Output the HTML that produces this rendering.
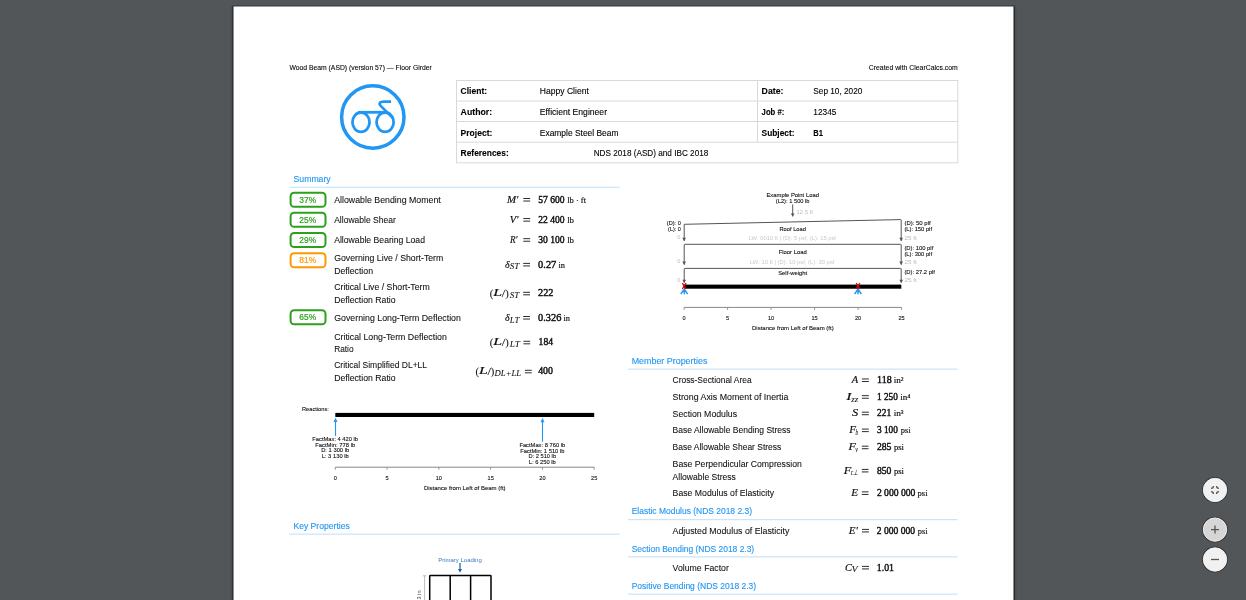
<!DOCTYPE html><html><head><meta charset="utf-8"><style>html,body{margin:0;padding:0;overflow:hidden;background:#525659}svg{display:block;will-change:transform}</style></head><body><svg width="1246" height="600" viewBox="0 0 1246 600" font-family="Liberation Sans"><rect x="0" y="0" width="1246" height="600" fill="#525659"/>
<rect x="230.5" y="5.5" width="786" height="620" fill="#4b4e51"/>
<rect x="232.5" y="5.5" width="782" height="620" fill="#33363a"/>
<rect x="232.6" y="6.5" width="1.4" height="620" fill="#1b1e21"/>
<rect x="1013" y="6.5" width="1.6" height="620" fill="#1b1e21"/>
<rect x="233.5" y="6.5" width="780" height="620" fill="#ffffff"/>
<text x="289.4" y="70" font-size="6.8" fill="#000" textLength="142.4" lengthAdjust="spacingAndGlyphs" stroke="#000" stroke-width="0.08">Wood Beam (ASD) (version 57) — Floor Girder</text>
<text x="957.8" y="70" font-size="6.8" fill="#000" text-anchor="end" textLength="89" lengthAdjust="spacingAndGlyphs" stroke="#000" stroke-width="0.08">Created with ClearCalcs.com</text>
<g fill="none" stroke="#2196f3">
<circle cx="372.8" cy="117" r="31.2" stroke-width="3.5"/>
<ellipse cx="361" cy="122.2" rx="8.55" ry="9.7" stroke-width="2.8"/>
<ellipse cx="385.1" cy="122.2" rx="8.55" ry="9.7" stroke-width="2.8"/>
<path d="M358 112.3 L386 112.3" stroke-width="2.8"/>
<path d="M393.2 118.2 L381.2 106.4 C 378.2 103.4, 379.6 101.6, 384 101.6 L 391 101.6" stroke-width="2.7"/>
</g>
<g fill="none" stroke="#d9d9d9" stroke-width="1">
<rect x="456.5" y="80.5" width="501.3" height="82.3"/>
<line x1="456.5" y1="101" x2="957.8" y2="101" stroke="#d9d9d9" stroke-width="1"/>
<line x1="456.5" y1="121.5" x2="957.8" y2="121.5" stroke="#d9d9d9" stroke-width="1"/>
<line x1="456.5" y1="142.2" x2="957.8" y2="142.2" stroke="#d9d9d9" stroke-width="1"/>
<line x1="757.5" y1="80.5" x2="757.5" y2="142.2" stroke="#d9d9d9" stroke-width="1"/>
</g>
<text x="460.6" y="94.1" font-size="8.4" fill="#000" textLength="26.5" lengthAdjust="spacingAndGlyphs" font-weight="700" stroke="#000" stroke-width="0.1">Client:</text>
<text x="460.6" y="114.7" font-size="8.4" fill="#000" textLength="31.5" lengthAdjust="spacingAndGlyphs" font-weight="700" stroke="#000" stroke-width="0.1">Author:</text>
<text x="460.6" y="135.5" font-size="8.4" fill="#000" textLength="31.8" lengthAdjust="spacingAndGlyphs" font-weight="700" stroke="#000" stroke-width="0.1">Project:</text>
<text x="460.6" y="156.1" font-size="8.4" fill="#000" textLength="48.2" lengthAdjust="spacingAndGlyphs" font-weight="700" stroke="#000" stroke-width="0.1">References:</text>
<text x="539.8" y="94.1" font-size="8.4" fill="#000" textLength="49" lengthAdjust="spacingAndGlyphs" stroke="#000" stroke-width="0.1">Happy Client</text>
<text x="539.8" y="114.7" font-size="8.4" fill="#000" textLength="67.2" lengthAdjust="spacingAndGlyphs" stroke="#000" stroke-width="0.1">Efficient Engineer</text>
<text x="539.8" y="135.5" font-size="8.4" fill="#000" textLength="78.7" lengthAdjust="spacingAndGlyphs" stroke="#000" stroke-width="0.1">Example Steel Beam</text>
<text x="593.7" y="156.1" font-size="8.4" fill="#000" textLength="114.6" lengthAdjust="spacingAndGlyphs" stroke="#000" stroke-width="0.1">NDS 2018 (ASD) and IBC 2018</text>
<text x="761.6" y="94.1" font-size="8.4" fill="#000" textLength="21.8" lengthAdjust="spacingAndGlyphs" font-weight="700" stroke="#000" stroke-width="0.1">Date:</text>
<text x="761.6" y="114.7" font-size="8.4" fill="#000" textLength="22.7" lengthAdjust="spacingAndGlyphs" font-weight="700" stroke="#000" stroke-width="0.1">Job #:</text>
<text x="761.6" y="135.5" font-size="8.4" fill="#000" textLength="32.9" lengthAdjust="spacingAndGlyphs" font-weight="700" stroke="#000" stroke-width="0.1">Subject:</text>
<text x="813.3" y="94.1" font-size="8.4" fill="#000" textLength="49.1" lengthAdjust="spacingAndGlyphs" stroke="#000" stroke-width="0.1">Sep 10, 2020</text>
<text x="813.3" y="114.7" font-size="8.4" fill="#000" textLength="23.2" lengthAdjust="spacingAndGlyphs" stroke="#000" stroke-width="0.1">12345</text>
<text x="813.3" y="135.5" font-size="8.4" fill="#000" textLength="9.7" lengthAdjust="spacingAndGlyphs" font-weight="700" stroke="#000" stroke-width="0.1">B1</text>
<text x="293.5" y="182" font-size="8.8" fill="#2196f3" textLength="37.2" lengthAdjust="spacingAndGlyphs" stroke="#2196f3" stroke-width="0.12">Summary</text>
<rect x="289.4" y="186.7" width="330.20000000000005" height="1.1" fill="#c6e2fb"/>
<rect x="290.6" y="192.75" width="34.9" height="14.1" rx="3.6" fill="none" stroke="#2ca01c" stroke-width="2"/>
<text x="307.7" y="202.8" font-size="8.4" fill="#2ca01c" text-anchor="middle" textLength="16.8" lengthAdjust="spacingAndGlyphs" stroke="#2ca01c" stroke-width="0.2">37%</text>
<text x="334.2" y="203" font-size="9.0" fill="#111" textLength="106.6" lengthAdjust="spacingAndGlyphs" stroke="#111" stroke-width="0.08">Allowable Bending Moment</text>
<rect x="290.6" y="212.75" width="34.9" height="14.1" rx="3.6" fill="none" stroke="#2ca01c" stroke-width="2"/>
<text x="307.7" y="222.8" font-size="8.4" fill="#2ca01c" text-anchor="middle" textLength="16.8" lengthAdjust="spacingAndGlyphs" stroke="#2ca01c" stroke-width="0.2">25%</text>
<text x="334.2" y="223.3" font-size="9.0" fill="#111" textLength="61.6" lengthAdjust="spacingAndGlyphs" stroke="#111" stroke-width="0.08">Allowable Shear</text>
<rect x="290.6" y="232.95" width="34.9" height="14.1" rx="3.6" fill="none" stroke="#2ca01c" stroke-width="2"/>
<text x="307.7" y="243.0" font-size="8.4" fill="#2ca01c" text-anchor="middle" textLength="16.8" lengthAdjust="spacingAndGlyphs" stroke="#2ca01c" stroke-width="0.2">29%</text>
<text x="334.2" y="243.2" font-size="9.0" fill="#111" textLength="90.8" lengthAdjust="spacingAndGlyphs" stroke="#111" stroke-width="0.08">Allowable Bearing Load</text>
<rect x="290.6" y="253.25" width="34.9" height="14.1" rx="3.6" fill="none" stroke="#ff9800" stroke-width="2"/>
<text x="307.7" y="263.3" font-size="8.4" fill="#ff9800" text-anchor="middle" textLength="16.8" lengthAdjust="spacingAndGlyphs" stroke="#ff9800" stroke-width="0.2">81%</text>
<text x="334.2" y="261.4" font-size="9.0" fill="#111" textLength="109.1" lengthAdjust="spacingAndGlyphs" stroke="#111" stroke-width="0.08">Governing Live / Short-Term</text>
<text x="334.2" y="274.2" font-size="9.0" fill="#111" textLength="38.8" lengthAdjust="spacingAndGlyphs" stroke="#111" stroke-width="0.08">Deflection</text>
<text x="334.2" y="290.1" font-size="9.0" fill="#111" textLength="95.6" lengthAdjust="spacingAndGlyphs" stroke="#111" stroke-width="0.08">Critical Live / Short-Term</text>
<text x="334.2" y="302.9" font-size="9.0" fill="#111" textLength="61.4" lengthAdjust="spacingAndGlyphs" stroke="#111" stroke-width="0.08">Deflection Ratio</text>
<rect x="290.6" y="310.25" width="34.9" height="14.1" rx="3.6" fill="none" stroke="#2ca01c" stroke-width="2"/>
<text x="307.7" y="320.29999999999995" font-size="8.4" fill="#2ca01c" text-anchor="middle" textLength="16.8" lengthAdjust="spacingAndGlyphs" stroke="#2ca01c" stroke-width="0.2">65%</text>
<text x="334.2" y="321.1" font-size="9.0" fill="#111" textLength="126.7" lengthAdjust="spacingAndGlyphs" stroke="#111" stroke-width="0.08">Governing Long-Term Deflection</text>
<text x="334.2" y="339.5" font-size="9.0" fill="#111" textLength="112.7" lengthAdjust="spacingAndGlyphs" stroke="#111" stroke-width="0.08">Critical Long-Term Deflection</text>
<text x="334.2" y="351.8" font-size="9.0" fill="#111" textLength="19.4" lengthAdjust="spacingAndGlyphs" stroke="#111" stroke-width="0.08">Ratio</text>
<text x="334.2" y="368.3" font-size="9.0" fill="#111" textLength="92.9" lengthAdjust="spacingAndGlyphs" stroke="#111" stroke-width="0.08">Critical Simplified DL+LL</text>
<text x="334.2" y="380.6" font-size="9.0" fill="#111" textLength="61.4" lengthAdjust="spacingAndGlyphs" stroke="#111" stroke-width="0.08">Deflection Ratio</text>
<text x="507" y="202.6" font-family="Liberation Serif" font-size="11.0" fill="#111" font-style="italic" textLength="11.5" lengthAdjust="spacingAndGlyphs" stroke="#111" stroke-width="0.2">M′</text>
<rect x="523.3" y="198.0" width="6.9" height="0.95" fill="#222"/>
<rect x="523.3" y="200.54999999999998" width="6.9" height="0.95" fill="#222"/>
<text x="538.2" y="202.6" font-family="Liberation Serif" font-size="9.8" fill="#111" textLength="26.3" lengthAdjust="spacingAndGlyphs" stroke="#111" stroke-width="0.42">57 600</text>
<text x="567.2" y="202.6" font-family="Liberation Serif" font-size="8.0" fill="#111" textLength="18.8" lengthAdjust="spacingAndGlyphs" stroke="#111" stroke-width="0.15">lb · ft</text>
<text x="509.8" y="222.7" font-family="Liberation Serif" font-size="11.0" fill="#111" font-style="italic" textLength="8.7" lengthAdjust="spacingAndGlyphs" stroke="#111" stroke-width="0.2">V′</text>
<rect x="523.3" y="218.1" width="6.9" height="0.95" fill="#222"/>
<rect x="523.3" y="220.64999999999998" width="6.9" height="0.95" fill="#222"/>
<text x="538.2" y="222.7" font-family="Liberation Serif" font-size="9.8" fill="#111" textLength="26.3" lengthAdjust="spacingAndGlyphs" stroke="#111" stroke-width="0.42">22 400</text>
<text x="567.2" y="222.7" font-family="Liberation Serif" font-size="8.0" fill="#111" textLength="6.8" lengthAdjust="spacingAndGlyphs" stroke="#111" stroke-width="0.15">lb</text>
<text x="510" y="242.8" font-family="Liberation Serif" font-size="11.0" fill="#111" font-style="italic" textLength="7.6" lengthAdjust="spacingAndGlyphs" stroke="#111" stroke-width="0.2">R′</text>
<rect x="523.3" y="238.20000000000002" width="6.9" height="0.95" fill="#222"/>
<rect x="523.3" y="240.75" width="6.9" height="0.95" fill="#222"/>
<text x="538.2" y="242.8" font-family="Liberation Serif" font-size="9.8" fill="#111" textLength="26.3" lengthAdjust="spacingAndGlyphs" stroke="#111" stroke-width="0.42">30 100</text>
<text x="567.2" y="242.8" font-family="Liberation Serif" font-size="8.0" fill="#111" textLength="6.8" lengthAdjust="spacingAndGlyphs" stroke="#111" stroke-width="0.15">lb</text>
<text x="505" y="267.5" font-family="Liberation Serif" font-size="11.0" fill="#111" font-style="italic" textLength="4.6" lengthAdjust="spacingAndGlyphs" stroke="#111" stroke-width="0.2">δ</text>
<text x="509.8" y="269.4" font-family="Liberation Serif" font-size="7.4" fill="#111" font-style="italic" textLength="9.6" lengthAdjust="spacingAndGlyphs" stroke="#111" stroke-width="0.05">ST</text>
<rect x="523.2" y="262.9" width="6.8" height="0.95" fill="#222"/>
<rect x="523.2" y="265.45" width="6.8" height="0.95" fill="#222"/>
<text x="538.1" y="267.5" font-family="Liberation Serif" font-size="9.8" fill="#111" textLength="18.2" lengthAdjust="spacingAndGlyphs" stroke="#111" stroke-width="0.42">0.27</text>
<text x="558.5" y="267.5" font-family="Liberation Serif" font-size="8.0" fill="#111" textLength="6.5" lengthAdjust="spacingAndGlyphs" stroke="#111" stroke-width="0.15">in</text>
<text x="489.8" y="296.7" font-family="Liberation Serif" font-size="11.0" fill="#111" textLength="3.5" lengthAdjust="spacingAndGlyphs" stroke="#111" stroke-width="0.1">(</text>
<text x="493.2" y="296.4" font-family="Liberation Serif" font-size="11.0" fill="#111" font-style="italic" textLength="8.8" lengthAdjust="spacingAndGlyphs" stroke="#111" stroke-width="0.2">L</text>
<text x="501.8" y="296.7" font-family="Liberation Serif" font-size="11.0" fill="#111" textLength="3.5" lengthAdjust="spacingAndGlyphs" stroke="#111" stroke-width="0.1">/</text>
<text x="505.2" y="296.7" font-family="Liberation Serif" font-size="11.0" fill="#111" textLength="3.5" lengthAdjust="spacingAndGlyphs" stroke="#111" stroke-width="0.1">)</text>
<text x="509.8" y="298.29999999999995" font-family="Liberation Serif" font-size="7.4" fill="#111" font-style="italic" textLength="9.6" lengthAdjust="spacingAndGlyphs" stroke="#111" stroke-width="0.05">ST</text>
<rect x="523.2" y="291.79999999999995" width="6.8" height="0.95" fill="#222"/>
<rect x="523.2" y="294.34999999999997" width="6.8" height="0.95" fill="#222"/>
<text x="538.1" y="296.4" font-family="Liberation Serif" font-size="9.8" fill="#111" textLength="15.4" lengthAdjust="spacingAndGlyphs" stroke="#111" stroke-width="0.42">222</text>
<text x="505" y="320.6" font-family="Liberation Serif" font-size="11.0" fill="#111" font-style="italic" textLength="4.6" lengthAdjust="spacingAndGlyphs" stroke="#111" stroke-width="0.2">δ</text>
<text x="509.8" y="322.5" font-family="Liberation Serif" font-size="7.4" fill="#111" font-style="italic" textLength="9.6" lengthAdjust="spacingAndGlyphs" stroke="#111" stroke-width="0.05">LT</text>
<rect x="523.2" y="316.0" width="6.8" height="0.95" fill="#222"/>
<rect x="523.2" y="318.55" width="6.8" height="0.95" fill="#222"/>
<text x="538.1" y="320.6" font-family="Liberation Serif" font-size="9.8" fill="#111" textLength="23.2" lengthAdjust="spacingAndGlyphs" stroke="#111" stroke-width="0.42">0.326</text>
<text x="563.5" y="320.6" font-family="Liberation Serif" font-size="8.0" fill="#111" textLength="6.5" lengthAdjust="spacingAndGlyphs" stroke="#111" stroke-width="0.15">in</text>
<text x="489.8" y="345.7" font-family="Liberation Serif" font-size="11.0" fill="#111" textLength="3.5" lengthAdjust="spacingAndGlyphs" stroke="#111" stroke-width="0.1">(</text>
<text x="493.2" y="345.4" font-family="Liberation Serif" font-size="11.0" fill="#111" font-style="italic" textLength="8.8" lengthAdjust="spacingAndGlyphs" stroke="#111" stroke-width="0.2">L</text>
<text x="501.8" y="345.7" font-family="Liberation Serif" font-size="11.0" fill="#111" textLength="3.5" lengthAdjust="spacingAndGlyphs" stroke="#111" stroke-width="0.1">/</text>
<text x="505.2" y="345.7" font-family="Liberation Serif" font-size="11.0" fill="#111" textLength="3.5" lengthAdjust="spacingAndGlyphs" stroke="#111" stroke-width="0.1">)</text>
<text x="509.8" y="347.29999999999995" font-family="Liberation Serif" font-size="7.4" fill="#111" font-style="italic" textLength="10.1" lengthAdjust="spacingAndGlyphs" stroke="#111" stroke-width="0.05">LT</text>
<rect x="523.4" y="340.79999999999995" width="6.8" height="0.95" fill="#222"/>
<rect x="523.4" y="343.34999999999997" width="6.8" height="0.95" fill="#222"/>
<text x="538.6" y="345.4" font-family="Liberation Serif" font-size="9.8" fill="#111" textLength="14.4" lengthAdjust="spacingAndGlyphs" stroke="#111" stroke-width="0.42">184</text>
<text x="475.6" y="374.7" font-family="Liberation Serif" font-size="11.0" fill="#111" textLength="3.5" lengthAdjust="spacingAndGlyphs" stroke="#111" stroke-width="0.1">(</text>
<text x="479" y="374.4" font-family="Liberation Serif" font-size="11.0" fill="#111" font-style="italic" textLength="8.8" lengthAdjust="spacingAndGlyphs" stroke="#111" stroke-width="0.2">L</text>
<text x="487.6" y="374.7" font-family="Liberation Serif" font-size="11.0" fill="#111" textLength="3.5" lengthAdjust="spacingAndGlyphs" stroke="#111" stroke-width="0.1">/</text>
<text x="490.8" y="374.7" font-family="Liberation Serif" font-size="11.0" fill="#111" textLength="3.5" lengthAdjust="spacingAndGlyphs" stroke="#111" stroke-width="0.1">)</text>
<text x="494.6" y="376.29999999999995" font-family="Liberation Serif" font-size="7.4" fill="#111" font-style="italic" textLength="26.5" lengthAdjust="spacingAndGlyphs" stroke="#111" stroke-width="0.05">DL+LL</text>
<rect x="524.9" y="369.79999999999995" width="6.8" height="0.95" fill="#222"/>
<rect x="524.9" y="372.34999999999997" width="6.8" height="0.95" fill="#222"/>
<text x="538.2" y="374.4" font-family="Liberation Serif" font-size="9.8" fill="#111" textLength="14.8" lengthAdjust="spacingAndGlyphs" stroke="#111" stroke-width="0.42">400</text>
<text x="302" y="411.4" font-size="5.6" fill="#111" textLength="26.8" lengthAdjust="spacingAndGlyphs" stroke="#111" stroke-width="0.1">Reactions:</text>
<rect x="335.3" y="412.9" width="258.9" height="4.1" fill="#000"/>
<line x1="335.5" y1="420.8" x2="335.5" y2="436" stroke="#2196f3" stroke-width="1.1"/>
<path d="M333.5 422.0 L335.5 417.8 L337.5 422.0 Z" fill="#2196f3"/>
<line x1="542.5" y1="421" x2="542.5" y2="441.7" stroke="#2196f3" stroke-width="1.1"/>
<path d="M540.5 422.2 L542.5 418 L544.5 422.2 Z" fill="#2196f3"/>
<text x="335.2" y="440.9" font-size="5.3" fill="#111" text-anchor="middle" textLength="45.7" lengthAdjust="spacingAndGlyphs" stroke="#111" stroke-width="0.1">FactMax: 4 420 lb</text>
<text x="335.2" y="446.8" font-size="5.3" fill="#111" text-anchor="middle" textLength="40" lengthAdjust="spacingAndGlyphs" stroke="#111" stroke-width="0.1">FactMin: 778 lb</text>
<text x="335.2" y="452.3" font-size="5.3" fill="#111" text-anchor="middle" textLength="28" lengthAdjust="spacingAndGlyphs" stroke="#111" stroke-width="0.1">D: 1 300 lb</text>
<text x="335.2" y="458.1" font-size="5.3" fill="#111" text-anchor="middle" textLength="27.1" lengthAdjust="spacingAndGlyphs" stroke="#111" stroke-width="0.1">L: 3 130 lb</text>
<text x="542.3" y="447" font-size="5.3" fill="#111" text-anchor="middle" textLength="45.8" lengthAdjust="spacingAndGlyphs" stroke="#111" stroke-width="0.1">FactMax: 8 760 lb</text>
<text x="542.3" y="452.8" font-size="5.3" fill="#111" text-anchor="middle" textLength="44.2" lengthAdjust="spacingAndGlyphs" stroke="#111" stroke-width="0.1">FactMin: 1 510 lb</text>
<text x="542.3" y="458.3" font-size="5.3" fill="#111" text-anchor="middle" textLength="27.5" lengthAdjust="spacingAndGlyphs" stroke="#111" stroke-width="0.1">D: 2 510 lb</text>
<text x="542.3" y="464.2" font-size="5.3" fill="#111" text-anchor="middle" textLength="27.1" lengthAdjust="spacingAndGlyphs" stroke="#111" stroke-width="0.1">L: 6 250 lb</text>
<line x1="335.3" y1="467.2" x2="594.2" y2="467.2" stroke="#888" stroke-width="1"/>
<line x1="335.3" y1="467.2" x2="335.3" y2="469.7" stroke="#888" stroke-width="0.9"/>
<text x="335.3" y="480.2" font-size="5.6" fill="#111" text-anchor="middle" stroke="#111" stroke-width="0.1">0</text>
<line x1="387.08000000000004" y1="467.2" x2="387.08000000000004" y2="469.7" stroke="#888" stroke-width="0.9"/>
<text x="387.08000000000004" y="480.2" font-size="5.6" fill="#111" text-anchor="middle" stroke="#111" stroke-width="0.1">5</text>
<line x1="438.86" y1="467.2" x2="438.86" y2="469.7" stroke="#888" stroke-width="0.9"/>
<text x="438.86" y="480.2" font-size="5.6" fill="#111" text-anchor="middle" stroke="#111" stroke-width="0.1">10</text>
<line x1="490.64" y1="467.2" x2="490.64" y2="469.7" stroke="#888" stroke-width="0.9"/>
<text x="490.64" y="480.2" font-size="5.6" fill="#111" text-anchor="middle" stroke="#111" stroke-width="0.1">15</text>
<line x1="542.4200000000001" y1="467.2" x2="542.4200000000001" y2="469.7" stroke="#888" stroke-width="0.9"/>
<text x="542.4200000000001" y="480.2" font-size="5.6" fill="#111" text-anchor="middle" stroke="#111" stroke-width="0.1">20</text>
<line x1="594.2" y1="467.2" x2="594.2" y2="469.7" stroke="#888" stroke-width="0.9"/>
<text x="594.2" y="480.2" font-size="5.6" fill="#111" text-anchor="middle" stroke="#111" stroke-width="0.1">25</text>
<text x="464.75" y="490.2" font-size="5.3" fill="#111" text-anchor="middle" textLength="81.7" lengthAdjust="spacingAndGlyphs" stroke="#111" stroke-width="0.1">Distance from Left of Beam (ft)</text>
<text x="293.4" y="529.3" font-size="8.8" fill="#2196f3" textLength="56.4" lengthAdjust="spacingAndGlyphs" stroke="#2196f3" stroke-width="0.12">Key Properties</text>
<rect x="289.4" y="533.6" width="330.20000000000005" height="1.1" fill="#c6e2fb"/>
<text x="460" y="561.5" font-size="5.6" fill="#3a78c2" text-anchor="middle" textLength="43.6" lengthAdjust="spacingAndGlyphs">Primary Loading</text>
<line x1="460" y1="563" x2="460" y2="570" stroke="#1a5fa8" stroke-width="1.2"/>
<path d="M458 569 L460 572.8 L462 569 Z" fill="#1a5fa8"/>
<g fill="none" stroke="#000" stroke-width="1.5">
<path d="M429.7 605 L429.7 576.2 Q429.7 575.6 430.3 575.6 L490.4 575.6 Q491 575.6 491 576.2 L491 605"/>
<line x1="450.2" y1="575.6" x2="450.2" y2="605" stroke="#000" stroke-width="1.5"/>
<line x1="470.6" y1="575.6" x2="470.6" y2="605" stroke="#000" stroke-width="1.5"/>
</g>
<line x1="424.6" y1="575.8" x2="424.6" y2="605" stroke="#aaa" stroke-width="0.8"/>
<line x1="422.8" y1="575.8" x2="426.4" y2="575.8" stroke="#aaa" stroke-width="0.8"/>
<text x="0" y="0" font-size="5.6" fill="#333" transform="translate(421.3 599.5) rotate(-90)">3 in</text>
<text x="792.7" y="197.4" font-size="5.6" fill="#111" text-anchor="middle" textLength="52.5" lengthAdjust="spacingAndGlyphs" stroke="#111" stroke-width="0.1">Example Point Load</text>
<text x="792.7" y="202.8" font-size="5.6" fill="#111" text-anchor="middle" textLength="33.7" lengthAdjust="spacingAndGlyphs" stroke="#111" stroke-width="0.1">(L2): 1 500 lb</text>
<line x1="792.7" y1="204.5" x2="792.7" y2="214.5" stroke="#555" stroke-width="1"/>
<path d="M790.9000000000001 213.4 L792.7 217 L794.5 213.4 Z" fill="#555"/>
<text x="796.5" y="214" font-size="5.6" fill="#bbb" textLength="16.3" lengthAdjust="spacingAndGlyphs">12.5 ft</text>
<path d="M684.2 241 L684.2 224.3 L900.6 219.6 Q901.2 219.6 901.2 220.2 L901.2 241" fill="none" stroke="#555" stroke-width="1"/>
<path d="M682.4000000000001 237.70000000000002 L684.2 241.3 L686.0 237.70000000000002 Z" fill="#555"/>
<path d="M899.4000000000001 237.70000000000002 L901.2 241.3 L903.0 237.70000000000002 Z" fill="#555"/>
<text x="792.7" y="230.5" font-size="5.6" fill="#111" text-anchor="middle" textLength="26.5" lengthAdjust="spacingAndGlyphs" stroke="#111" stroke-width="0.1">Roof Load</text>
<text x="792.4" y="239.5" font-size="5.6" fill="#c8c8c8" text-anchor="middle" textLength="87.2" lengthAdjust="spacingAndGlyphs">LW: 0010 ft | (D): 5 psf, (L): 15 psf</text>
<path d="M684.2 264.5 L684.2 244.9 Q684.2 244.3 684.8 244.3 L900.6 244.3 Q901.2 244.3 901.2 244.9 L901.2 264.5" fill="none" stroke="#555" stroke-width="1"/>
<path d="M682.4000000000001 261.59999999999997 L684.2 265.2 L686.0 261.59999999999997 Z" fill="#555"/>
<path d="M899.4000000000001 261.59999999999997 L901.2 265.2 L903.0 261.59999999999997 Z" fill="#555"/>
<text x="792.7" y="253.5" font-size="5.6" fill="#111" text-anchor="middle" textLength="28" lengthAdjust="spacingAndGlyphs" stroke="#111" stroke-width="0.1">Floor Load</text>
<text x="792.2" y="263.5" font-size="5.6" fill="#c8c8c8" text-anchor="middle" textLength="84.5" lengthAdjust="spacingAndGlyphs">LW: 10 ft | (D): 10 psf, (L): 30 psf</text>
<path d="M684.2 282.5 L684.2 269 Q684.2 268.4 684.8 268.4 L900.6 268.4 Q901.2 268.4 901.2 269 L901.2 282.5" fill="none" stroke="#555" stroke-width="1"/>
<path d="M682.4000000000001 279.7 L684.2 283.3 L686.0 279.7 Z" fill="#555"/>
<path d="M899.4000000000001 279.7 L901.2 283.3 L903.0 279.7 Z" fill="#555"/>
<text x="792.7" y="275" font-size="5.6" fill="#111" text-anchor="middle" textLength="29" lengthAdjust="spacingAndGlyphs" stroke="#111" stroke-width="0.1">Self-weight</text>
<rect x="684.1" y="284.6" width="217.2" height="4.1" fill="#000"/>
<path d="M682.3000000000001 283.2 L686.1 289 M686.1 283.2 L682.3000000000001 289" stroke="#d50000" stroke-width="1.3" fill="none"/>
<rect x="683.4000000000001" y="284.6" width="1.6" height="3" fill="#d50000"/>
<path d="M684.2 289.2 L680.8000000000001 294 M684.2 289.2 L687.6 294 M684.2 289.2 L684.2 294.3" stroke="#2196f3" stroke-width="1.4" fill="none"/>
<path d="M856.1 283.2 L859.9 289 M859.9 283.2 L856.1 289" stroke="#d50000" stroke-width="1.3" fill="none"/>
<rect x="857.2" y="284.6" width="1.6" height="3" fill="#d50000"/>
<path d="M858 289.2 L854.6 294 M858 289.2 L861.4 294 M858 289.2 L858 294.3" stroke="#2196f3" stroke-width="1.4" fill="none"/>
<text x="680.8" y="225.3" font-size="5.6" fill="#111" text-anchor="end" textLength="14" lengthAdjust="spacingAndGlyphs" stroke="#111" stroke-width="0.1">(D): 0</text>
<text x="680.8" y="231" font-size="5.6" fill="#111" text-anchor="end" textLength="12.7" lengthAdjust="spacingAndGlyphs" stroke="#111" stroke-width="0.1">(L): 0</text>
<text x="680.4" y="238.8" font-size="5.6" fill="#bbb" text-anchor="end">0</text>
<text x="680.4" y="262.8" font-size="5.6" fill="#bbb" text-anchor="end">0</text>
<text x="680.4" y="281.7" font-size="5.6" fill="#bbb" text-anchor="end">0</text>
<text x="904.4" y="224.9" font-size="5.6" fill="#111" textLength="26.3" lengthAdjust="spacingAndGlyphs" stroke="#111" stroke-width="0.1">(D): 50 plf</text>
<text x="904.4" y="231.1" font-size="5.6" fill="#111" textLength="27.6" lengthAdjust="spacingAndGlyphs" stroke="#111" stroke-width="0.1">(L): 150 plf</text>
<text x="904.4" y="239.6" font-size="5.6" fill="#bbb" textLength="12.3" lengthAdjust="spacingAndGlyphs">25 ft</text>
<text x="904.4" y="249.7" font-size="5.6" fill="#111" textLength="28.9" lengthAdjust="spacingAndGlyphs" stroke="#111" stroke-width="0.1">(D): 100 plf</text>
<text x="904.4" y="255.6" font-size="5.6" fill="#111" textLength="27.6" lengthAdjust="spacingAndGlyphs" stroke="#111" stroke-width="0.1">(L): 300 plf</text>
<text x="904.4" y="263.6" font-size="5.6" fill="#bbb" textLength="12.3" lengthAdjust="spacingAndGlyphs">25 ft</text>
<text x="904.4" y="274" font-size="5.6" fill="#111" textLength="30.5" lengthAdjust="spacingAndGlyphs" stroke="#111" stroke-width="0.1">(D): 27.2 plf</text>
<text x="904.4" y="282" font-size="5.6" fill="#bbb" textLength="12.3" lengthAdjust="spacingAndGlyphs">25 ft</text>
<line x1="684.1" y1="307.4" x2="901.6" y2="307.4" stroke="#888" stroke-width="1"/>
<line x1="684.1" y1="307.4" x2="684.1" y2="309.9" stroke="#888" stroke-width="0.9"/>
<text x="684.1" y="320.2" font-size="5.6" fill="#111" text-anchor="middle" stroke="#111" stroke-width="0.1">0</text>
<line x1="727.6" y1="307.4" x2="727.6" y2="309.9" stroke="#888" stroke-width="0.9"/>
<text x="727.6" y="320.2" font-size="5.6" fill="#111" text-anchor="middle" stroke="#111" stroke-width="0.1">5</text>
<line x1="771.1" y1="307.4" x2="771.1" y2="309.9" stroke="#888" stroke-width="0.9"/>
<text x="771.1" y="320.2" font-size="5.6" fill="#111" text-anchor="middle" stroke="#111" stroke-width="0.1">10</text>
<line x1="814.6" y1="307.4" x2="814.6" y2="309.9" stroke="#888" stroke-width="0.9"/>
<text x="814.6" y="320.2" font-size="5.6" fill="#111" text-anchor="middle" stroke="#111" stroke-width="0.1">15</text>
<line x1="858.1" y1="307.4" x2="858.1" y2="309.9" stroke="#888" stroke-width="0.9"/>
<text x="858.1" y="320.2" font-size="5.6" fill="#111" text-anchor="middle" stroke="#111" stroke-width="0.1">20</text>
<line x1="901.6" y1="307.4" x2="901.6" y2="309.9" stroke="#888" stroke-width="0.9"/>
<text x="901.6" y="320.2" font-size="5.6" fill="#111" text-anchor="middle" stroke="#111" stroke-width="0.1">25</text>
<text x="792.85" y="330.2" font-size="5.3" fill="#111" text-anchor="middle" textLength="81.7" lengthAdjust="spacingAndGlyphs" stroke="#111" stroke-width="0.1">Distance from Left of Beam (ft)</text>
<text x="631.7" y="364.2" font-size="8.8" fill="#2196f3" textLength="75.7" lengthAdjust="spacingAndGlyphs" stroke="#2196f3" stroke-width="0.12">Member Properties</text>
<rect x="628" y="368.6" width="329.70000000000005" height="1.1" fill="#c6e2fb"/>
<text x="672.6" y="383.3" font-size="9.0" fill="#111" textLength="79" lengthAdjust="spacingAndGlyphs" stroke="#111" stroke-width="0.08">Cross-Sectional Area</text>
<text x="672.6" y="400.2" font-size="9.0" fill="#111" textLength="115.8" lengthAdjust="spacingAndGlyphs" stroke="#111" stroke-width="0.08">Strong Axis Moment of Inertia</text>
<text x="672.6" y="416.8" font-size="9.0" fill="#111" textLength="64.5" lengthAdjust="spacingAndGlyphs" stroke="#111" stroke-width="0.08">Section Modulus</text>
<text x="672.6" y="433.3" font-size="9.0" fill="#111" textLength="118" lengthAdjust="spacingAndGlyphs" stroke="#111" stroke-width="0.08">Base Allowable Bending Stress</text>
<text x="672.6" y="450.4" font-size="9.0" fill="#111" textLength="108.7" lengthAdjust="spacingAndGlyphs" stroke="#111" stroke-width="0.08">Base Allowable Shear Stress</text>
<text x="672.6" y="467" font-size="9.0" fill="#111" textLength="129.3" lengthAdjust="spacingAndGlyphs" stroke="#111" stroke-width="0.08">Base Perpendicular Compression</text>
<text x="672.6" y="479.6" font-size="9.0" fill="#111" textLength="63.3" lengthAdjust="spacingAndGlyphs" stroke="#111" stroke-width="0.08">Allowable Stress</text>
<text x="672.6" y="496.1" font-size="9.0" fill="#111" textLength="101.4" lengthAdjust="spacingAndGlyphs" stroke="#111" stroke-width="0.08">Base Modulus of Elasticity</text>
<text x="631.7" y="514.3" font-size="8.8" fill="#2196f3" textLength="120.3" lengthAdjust="spacingAndGlyphs" stroke="#2196f3" stroke-width="0.12">Elastic Modulus (NDS 2018 2.3)</text>
<rect x="628" y="519.1" width="329.70000000000005" height="1.1" fill="#c6e2fb"/>
<text x="672.6" y="533.5" font-size="9.0" fill="#111" textLength="116.8" lengthAdjust="spacingAndGlyphs" stroke="#111" stroke-width="0.08">Adjusted Modulus of Elasticity</text>
<text x="631.7" y="551.5" font-size="8.8" fill="#2196f3" textLength="122.5" lengthAdjust="spacingAndGlyphs" stroke="#2196f3" stroke-width="0.12">Section Bending (NDS 2018 2.3)</text>
<rect x="628" y="556.3" width="329.70000000000005" height="1.1" fill="#c6e2fb"/>
<text x="672.6" y="570.7" font-size="9.0" fill="#111" textLength="56.3" lengthAdjust="spacingAndGlyphs" stroke="#111" stroke-width="0.08">Volume Factor</text>
<text x="631.7" y="589" font-size="8.8" fill="#2196f3" textLength="124.4" lengthAdjust="spacingAndGlyphs" stroke="#2196f3" stroke-width="0.12">Positive Bending (NDS 2018 2.3)</text>
<rect x="628" y="593.6" width="329.70000000000005" height="1.1" fill="#c6e2fb"/>
<text x="851.8" y="383.1" font-family="Liberation Serif" font-size="11.0" fill="#111" font-style="italic" textLength="6.4" lengthAdjust="spacingAndGlyphs" stroke="#111" stroke-width="0.2">A</text>
<rect x="861.9" y="378.5" width="6.9" height="0.95" fill="#222"/>
<rect x="861.9" y="381.05" width="6.9" height="0.95" fill="#222"/>
<text x="877" y="383.1" font-family="Liberation Serif" font-size="9.8" fill="#111" textLength="14.7" lengthAdjust="spacingAndGlyphs" stroke="#111" stroke-width="0.42">118</text>
<text x="893.7" y="383.1" font-family="Liberation Serif" font-size="8.0" fill="#111" textLength="9.9" lengthAdjust="spacingAndGlyphs" stroke="#111" stroke-width="0.15">in²</text>
<text x="846.3" y="399.8" font-family="Liberation Serif" font-size="11.0" fill="#111" font-style="italic" textLength="5.2" lengthAdjust="spacingAndGlyphs" stroke="#111" stroke-width="0.2">I</text>
<text x="851.3" y="401.7" font-family="Liberation Serif" font-size="7.4" fill="#111" font-style="italic" textLength="6.9" lengthAdjust="spacingAndGlyphs" stroke="#111" stroke-width="0.05">zz</text>
<rect x="861.9" y="395.2" width="6.9" height="0.95" fill="#222"/>
<rect x="861.9" y="397.75" width="6.9" height="0.95" fill="#222"/>
<text x="877" y="399.8" font-family="Liberation Serif" font-size="9.8" fill="#111" textLength="20.9" lengthAdjust="spacingAndGlyphs" stroke="#111" stroke-width="0.42">1 250</text>
<text x="900.2" y="399.8" font-family="Liberation Serif" font-size="8.0" fill="#111" textLength="10.2" lengthAdjust="spacingAndGlyphs" stroke="#111" stroke-width="0.15">in⁴</text>
<text x="852" y="416.3" font-family="Liberation Serif" font-size="11.0" fill="#111" font-style="italic" textLength="6.2" lengthAdjust="spacingAndGlyphs" stroke="#111" stroke-width="0.2">S</text>
<rect x="861.9" y="411.7" width="6.9" height="0.95" fill="#222"/>
<rect x="861.9" y="414.25" width="6.9" height="0.95" fill="#222"/>
<text x="877" y="416.3" font-family="Liberation Serif" font-size="9.8" fill="#111" textLength="14.1" lengthAdjust="spacingAndGlyphs" stroke="#111" stroke-width="0.42">221</text>
<text x="893.7" y="416.3" font-family="Liberation Serif" font-size="8.0" fill="#111" textLength="9.9" lengthAdjust="spacingAndGlyphs" stroke="#111" stroke-width="0.15">in³</text>
<text x="849.2" y="433.2" font-family="Liberation Serif" font-size="11.0" fill="#111" font-style="italic" textLength="6.8" lengthAdjust="spacingAndGlyphs" stroke="#111" stroke-width="0.2">F</text>
<text x="855.6" y="435.09999999999997" font-family="Liberation Serif" font-size="7.4" fill="#111" font-style="italic" textLength="2.6" lengthAdjust="spacingAndGlyphs" stroke="#111" stroke-width="0.05">b</text>
<rect x="861.9" y="428.59999999999997" width="6.9" height="0.95" fill="#222"/>
<rect x="861.9" y="431.15" width="6.9" height="0.95" fill="#222"/>
<text x="877" y="433.2" font-family="Liberation Serif" font-size="9.8" fill="#111" textLength="20.9" lengthAdjust="spacingAndGlyphs" stroke="#111" stroke-width="0.42">3 100</text>
<text x="900.8" y="433.2" font-family="Liberation Serif" font-size="8.0" fill="#111" textLength="9.9" lengthAdjust="spacingAndGlyphs" stroke="#111" stroke-width="0.15">psi</text>
<text x="848.4" y="450.3" font-family="Liberation Serif" font-size="11.0" fill="#111" font-style="italic" textLength="7.4" lengthAdjust="spacingAndGlyphs" stroke="#111" stroke-width="0.2">F</text>
<text x="855.2" y="452.2" font-family="Liberation Serif" font-size="7.4" fill="#111" font-style="italic" textLength="2.7" lengthAdjust="spacingAndGlyphs" stroke="#111" stroke-width="0.05">v</text>
<rect x="861.8" y="445.7" width="6.7" height="0.95" fill="#222"/>
<rect x="861.8" y="448.25" width="6.7" height="0.95" fill="#222"/>
<text x="876.9" y="450.3" font-family="Liberation Serif" font-size="9.8" fill="#111" textLength="14.5" lengthAdjust="spacingAndGlyphs" stroke="#111" stroke-width="0.42">285</text>
<text x="893.9" y="450.3" font-family="Liberation Serif" font-size="8.0" fill="#111" textLength="10.1" lengthAdjust="spacingAndGlyphs" stroke="#111" stroke-width="0.15">psi</text>
<text x="843.7" y="473.5" font-family="Liberation Serif" font-size="11.0" fill="#111" font-style="italic" textLength="7.5" lengthAdjust="spacingAndGlyphs" stroke="#111" stroke-width="0.2">F</text>
<text x="850.8" y="475.4" font-family="Liberation Serif" font-size="7.4" fill="#111" font-style="italic" textLength="7.1" lengthAdjust="spacingAndGlyphs" stroke="#111" stroke-width="0.05">c⊥</text>
<rect x="861.8" y="468.9" width="6.7" height="0.95" fill="#222"/>
<rect x="861.8" y="471.45" width="6.7" height="0.95" fill="#222"/>
<text x="876.9" y="473.5" font-family="Liberation Serif" font-size="9.8" fill="#111" textLength="14.5" lengthAdjust="spacingAndGlyphs" stroke="#111" stroke-width="0.42">850</text>
<text x="893.9" y="473.5" font-family="Liberation Serif" font-size="8.0" fill="#111" textLength="10.1" lengthAdjust="spacingAndGlyphs" stroke="#111" stroke-width="0.15">psi</text>
<text x="851.2" y="496" font-family="Liberation Serif" font-size="11.0" fill="#111" font-style="italic" textLength="6.8" lengthAdjust="spacingAndGlyphs" stroke="#111" stroke-width="0.2">E</text>
<rect x="861.8" y="491.4" width="6.7" height="0.95" fill="#222"/>
<rect x="861.8" y="493.95" width="6.7" height="0.95" fill="#222"/>
<text x="876.9" y="496" font-family="Liberation Serif" font-size="9.8" fill="#111" textLength="38.5" lengthAdjust="spacingAndGlyphs" stroke="#111" stroke-width="0.42">2 000 000</text>
<text x="917.6" y="496" font-family="Liberation Serif" font-size="8.0" fill="#111" textLength="10.0" lengthAdjust="spacingAndGlyphs" stroke="#111" stroke-width="0.15">psi</text>
<text x="848.8" y="533.5" font-family="Liberation Serif" font-size="11.0" fill="#111" font-style="italic" textLength="9.2" lengthAdjust="spacingAndGlyphs" stroke="#111" stroke-width="0.2">E′</text>
<rect x="862" y="528.9" width="7" height="0.95" fill="#222"/>
<rect x="862" y="531.45" width="7" height="0.95" fill="#222"/>
<text x="876.8" y="533.5" font-family="Liberation Serif" font-size="9.8" fill="#111" textLength="38.2" lengthAdjust="spacingAndGlyphs" stroke="#111" stroke-width="0.42">2 000 000</text>
<text x="917.8" y="533.5" font-family="Liberation Serif" font-size="8.0" fill="#111" textLength="9.7" lengthAdjust="spacingAndGlyphs" stroke="#111" stroke-width="0.15">psi</text>
<text x="845" y="570.5" font-family="Liberation Serif" font-size="11.0" fill="#111" font-style="italic" textLength="7" lengthAdjust="spacingAndGlyphs" stroke="#111" stroke-width="0.2">C</text>
<text x="851.6" y="572.4" font-family="Liberation Serif" font-size="7.4" fill="#111" font-style="italic" textLength="6.2" lengthAdjust="spacingAndGlyphs" stroke="#111" stroke-width="0.05">V</text>
<rect x="862" y="565.9" width="7" height="0.95" fill="#222"/>
<rect x="862" y="568.45" width="7" height="0.95" fill="#222"/>
<text x="876.8" y="570.5" font-family="Liberation Serif" font-size="9.8" fill="#111" textLength="17.2" lengthAdjust="spacingAndGlyphs" stroke="#111" stroke-width="0.42">1.01</text>
<circle cx="1215" cy="490" r="12.9" fill="#2e3134" opacity="0.9"/>
<circle cx="1215" cy="490" r="11.7" fill="#f1f1f1" stroke="#f6f6f6" stroke-width="0.9"/>
<circle cx="1215" cy="529.6" r="12.9" fill="#2e3134" opacity="0.9"/>
<circle cx="1215" cy="529.6" r="11.7" fill="#d6d6d6" stroke="#f6f6f6" stroke-width="0.9"/>
<circle cx="1215" cy="559.5" r="12.9" fill="#2e3134" opacity="0.9"/>
<circle cx="1215" cy="559.5" r="11.7" fill="#f1f1f1" stroke="#f6f6f6" stroke-width="0.9"/>
<g fill="none" stroke="#555" stroke-width="1.3">
<path d="M1211.05 488.45 A2.4 2.4 0 0 0 1213.45 486.05 M1216.55 486.05 A2.4 2.4 0 0 0 1218.95 488.45 M1211.05 491.55 A2.4 2.4 0 0 1 1213.45 493.95 M1216.55 493.95 A2.4 2.4 0 0 1 1218.95 491.55" stroke-width="1.3"/>
<path d="M1211 529.6 L1219 529.6 M1215 525.6 L1215 533.6"/>
<path d="M1211 559.5 L1219 559.5"/>
</g></svg></body></html>
